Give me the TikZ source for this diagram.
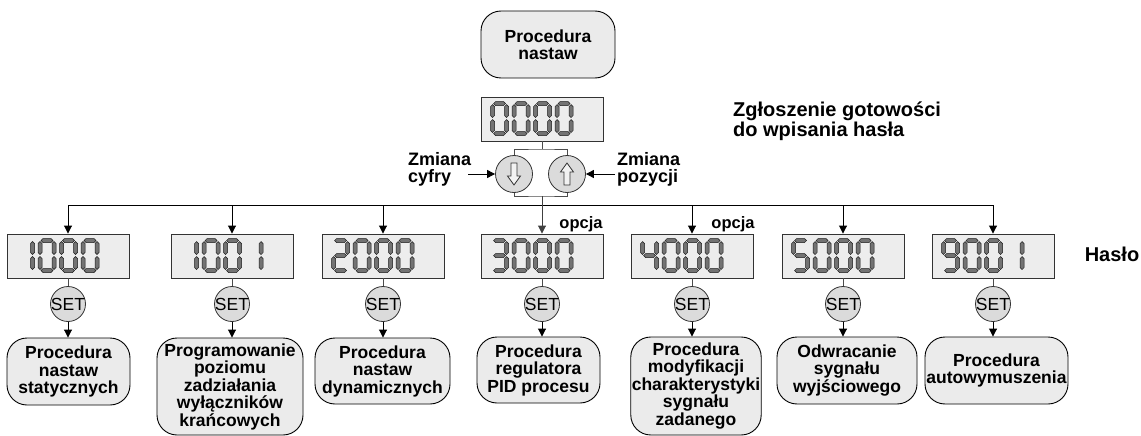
\documentclass[tikz,border=0pt]{standalone}
\usepackage{fontspec}
\setmainfont{Liberation Sans}
\usetikzlibrary{arrows.meta}

% seven-segment pieces (local frame: origin top-left of a digit, y downward)
\newcommand\hsegm[1]{\filldraw[seg] (3,#1) -- (5,#1-2) -- (13,#1-2) -- (15,#1) -- (13,#1+2) -- (5,#1+2) -- cycle;}
\newcommand\vsegm[3]{\filldraw[seg] (#1,#2) -- (#1+2,#2+2) -- (#1+2,#3-2) -- (#1,#3) -- (#1-2,#3-2) -- (#1-2,#2+2) -- cycle;}
\newcommand\SgA{\hsegm{2}}
\newcommand\SgG{\hsegm{17}}
\newcommand\SgD{\hsegm{32}}
\newcommand\SgF{\vsegm{2}{3}{16}}
\newcommand\SgB{\vsegm{16}{3}{16}}
\newcommand\SgE{\vsegm{2}{18}{31}}
\newcommand\SgC{\vsegm{16}{18}{31}}
\newcommand\DZero{\SgA\SgB\SgC\SgD\SgE\SgF}
\newcommand\DOne{\SgB\SgC}
\newcommand\DTwo{\SgA\SgB\SgG\SgE\SgD}
\newcommand\DThree{\SgA\SgB\SgG\SgC\SgD}
\newcommand\DFour{\SgF\SgG\SgB\SgC}
\newcommand\DFive{\SgA\SgF\SgG\SgC\SgD}
\newcommand\DNine{\SgA\SgB\SgC\SgD\SgF\SgG}
\newcommand\dgpos[2]{\begin{scope}[shift={(#1,5)}]#2\end{scope}}
\newcommand\lcd[5]{\begin{scope}[shift={(#1.north west)}]\dgpos{10}{#2}\dgpos{31.5}{#3}\dgpos{53}{#4}\dgpos{74.5}{#5}\end{scope}}
\newcommand\settext{\makebox[0pt]{SET}}

\tikzset{
  disp/.style={draw=black!80, fill=black!7, line width=0.9pt, minimum width=122pt, minimum height=44pt, inner sep=0pt},
  rbox/.style={draw=black, fill=black!8, rounded corners=20pt, line width=0.9pt, align=center, inner sep=1pt, font=\fontsize{17.5}{17.5}\selectfont\bfseries},
  setc/.style={circle, draw=black!80, fill=black!14, minimum size=35pt, inner sep=0pt, line width=0.8pt, font=\fontsize{17.5}{17}\selectfont},
  btn/.style={circle, draw=black!80, fill=black!14, minimum size=37pt, inner sep=0pt, line width=0.8pt},
  lbl/.style={font=\fontsize{17}{17.5}\selectfont\bfseries, align=left, inner sep=0pt},
  arr/.style={-{Triangle[length=8pt,width=8pt]}, line width=0.9pt},
  gline/.style={draw=black!70, line width=0.9pt},
  seg/.style={fill=black!55, draw=black!90, line width=0.5pt},
  harrow/.style={draw=black!80, fill=black!5, line width=0.8pt}
}

\begin{document}
\begin{tikzpicture}[x=1pt, y=-1pt]
\useasboundingbox (0,0) rectangle (1141,436);

% top
\node[rbox, minimum width=134pt, minimum height=67pt] (top) at (548,44.5) {Procedura\\nastaw};
\node[disp] (d0) at (542,119) {};
\lcd{d0}{\DZero}{\DZero}{\DZero}{\DZero}

\node[lbl, anchor=west, font=\fontsize{20}{17.5}\selectfont\bfseries] (zg) at (733,121) {Zgłoszenie gotowości\\do wpisania hasła};

% buttons
\node[btn] (bl) at (514,174) {};
\node[btn] (br) at (567,174) {};
\draw[harrow, shift={(bl.center)}] (-3,-11) -- (3,-11) -- (3,2) -- (6.5,2) -- (0,11) -- (-6.5,2) -- (-3,2) -- cycle;
\draw[harrow, shift={(br.center)}] (-3,11) -- (3,11) -- (3,-2) -- (6.5,-2) -- (0,-11) -- (-6.5,-2) -- (-3,-2) -- cycle;

\coordinate (ut) at (542,149);
\coordinate (lb) at (542,196);
\draw[gline] (d0.south) -- (ut);
\draw[gline] (bl.north) |- (ut) -| (br.north);
\draw[gline] (bl.south) |- (lb) -| (br.south);

\node[lbl, anchor=west, font=\fontsize{18}{17}\selectfont\bfseries] (zc) at (408,169) {Zmiana\\cyfry};
\node[lbl, anchor=west, font=\fontsize{18}{17}\selectfont\bfseries] (zp) at (617,169) {Zmiana\\pozycji};
\coordinate (ac) at (468,174);
\coordinate (ap) at (615,174);
\draw[arr] (ac) -- (bl.west);
\draw[arr] (ap) -- (br.east);

% displays
\node[disp] (d1) at (68,256) {};
\node[disp] (d2) at (232,256) {};
\node[disp] (d3) at (383,256) {};
\node[disp] (d4) at (542,256) {};
\node[disp] (d5) at (692,256) {};
\node[disp] (d6) at (843,256) {};
\node[disp] (d7) at (993,256) {};
\lcd{d1}{\DOne}{\DZero}{\DZero}{\DZero}
\lcd{d2}{\DOne}{\DZero}{\DZero}{\DOne}
\lcd{d3}{\DTwo}{\DZero}{\DZero}{\DZero}
\lcd{d4}{\DThree}{\DZero}{\DZero}{\DZero}
\lcd{d5}{\DFour}{\DZero}{\DZero}{\DZero}
\lcd{d6}{\DFive}{\DZero}{\DZero}{\DZero}
\lcd{d7}{\DNine}{\DZero}{\DZero}{\DOne}

% bus
\coordinate (busL) at (68,205);
\coordinate (busR) at (993,205);
\draw[line width=0.9pt] (busL) -- (busR);
\foreach \d in {d1,d2,d3,d5,d6,d7}{
  \draw[arr] (\d.north |- busL) -- (\d.north);
}
\draw[arr, black!75] (lb) -- (d4.north);

\node[lbl, font=\fontsize{16.5}{17}\selectfont\bfseries] (o1) at (581,224) {opcja};
\node[lbl, font=\fontsize{16.5}{17}\selectfont\bfseries] (o2) at (733,224) {opcja};
\node[lbl, font=\fontsize{20}{20}\selectfont\bfseries] (has) at (1112,254) {Hasło};

% SET buttons
\node[setc] (s1) at (68,304) {\settext};
\node[setc] (s2) at (232,304) {\settext};
\node[setc] (s3) at (383,304) {\settext};
\node[setc] (s4) at (542,304) {\settext};
\node[setc] (s5) at (692,304) {\settext};
\node[setc] (s6) at (843,304) {\settext};
\node[setc] (s7) at (993,304) {\settext};

% result boxes
\node[rbox, minimum width=123pt, minimum height=67pt] (b1) at (68.5,371.5) {Procedura\\nastaw\\statycznych};
\node[rbox, minimum width=146pt, minimum height=97pt] (b2) at (230,386.5) {Programowanie\\poziomu\\zadziałania\\wyłączników\\krańcowych};
\node[rbox, minimum width=135pt, minimum height=66pt] (b3) at (382.5,371) {Procedura\\nastaw\\dynamicznych};
\node[rbox, minimum width=123pt, minimum height=66pt] (b4) at (538.5,370) {Procedura\\regulatora\\PID procesu};
\node[rbox, minimum width=128pt, minimum height=98pt] (b5) at (696,386) {Procedura\\modyfikacji\\charakterystyki\\sygnału\\zadanego};
\node[rbox, minimum width=140pt, minimum height=67pt] (b6) at (847,370.5) {Odwracanie\\sygnału\\wyjściowego};
\node[rbox, minimum width=143pt, minimum height=67pt] (b7) at (996.5,370.5) {Procedura\\autowymuszenia};

\foreach \i in {1,...,7}{
  \draw[gline] (d\i.south) -- (s\i.north);
  \draw[arr] (s\i.south) -- (s\i.south |- b\i.north);
}
\end{tikzpicture}
\end{document}
